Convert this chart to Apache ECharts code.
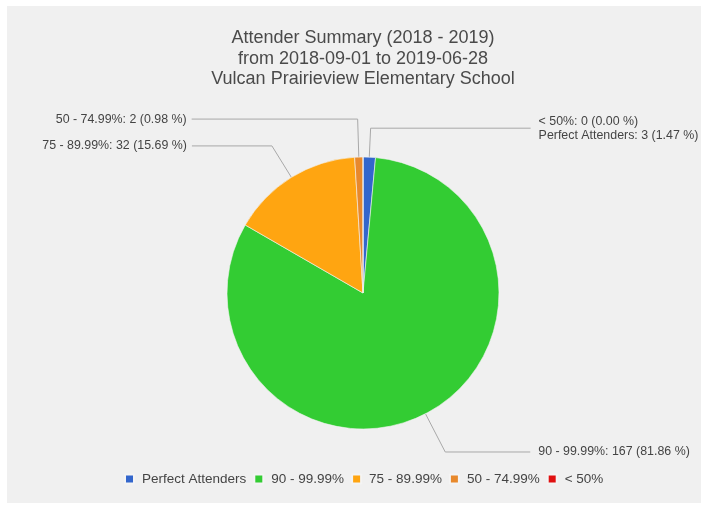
<!DOCTYPE html>
<html>
<head>
<meta charset="utf-8">
<script src="https://cdn.jsdelivr.net/npm/echarts@6/dist/echarts.min.js"></script>
<style>
  html, body { margin: 0; padding: 0; background: #fff; }
  #pie { position: absolute; left: 7px; top: 6px; width: 694px; height: 497px; background: #f0f0f0; }
</style>
</head>
<body>
<div id="pie"></div>
<script>
const titleLines = ["Attender Summary (2018 - 2019)", "from 2018-09-01 to 2019-06-28", "Vulcan Prairieview Elementary School"];
const categories = ["Perfect Attenders", "90 - 99.99%", "75 - 89.99%", "50 - 74.99%", "< 50%"];
const counts = [3, 167, 32, 2, 0];
const colors = ["#3366cc", "#33cc33", "#ffa511", "#e8892c", "#e01010"];

// leader line lengths per slice (first radial segment, horizontal segment)
const lineLen = [29, 43, 37, 38, 0];
const lineLen2 = [160, 85, 80, 166, 0];

const total = counts.reduce((a, b) => a + b, 0);
function pct(v) {
  return (v / total * 100).toFixed(2);
}
function labelText(i) {
  return categories[i] + ": " + counts[i] + " (" + pct(counts[i]) + " %)";
}

let chart = echarts.init(document.getElementById("pie"));
let data = categories.map(function (name, i) {
  let item = {
    name: name,
    value: counts[i],
    itemStyle: { color: colors[i] },
    labelLine: { length: lineLen[i], length2: lineLen2[i] }
  };
  if (i === 0) {
    // the empty "< 50%" slice is stacked above the Perfect Attenders label
    item.label = { padding: [0, 0, 14, 0], distanceToLabelLine: 8 };
  }
  if (i === 1) {
    item.label = { distanceToLabelLine: 8 };
  }
  if (counts[i] === 0) {
    item.label = { show: false };
    item.labelLine = { show: false };
  }
  return item;
});

let option = {
  animation: false,
  title: {
    text: titleLines.join("\n"),
    left: 356,
    top: 22,
    padding: 0,
    textAlign: "center",
    textStyle: {
      fontFamily: "Arial, 'Liberation Sans', sans-serif",
      fontSize: 18,
      fontWeight: "normal",
      lineHeight: 20.5,
      color: "#4a4a4a"
    }
  },
  legend: {
    data: categories,
    left: 112,
    top: 461,
    icon: "rect",
    itemWidth: 9,
    itemHeight: 9,
    itemGap: 7,
    selectedMode: false,
    textStyle: {
      fontFamily: "Arial, 'Liberation Sans', sans-serif",
      fontSize: 13.5,
      color: "#444",
      padding: [0, 0, 0, 3]
    }
  },
  series: [
    {
      type: "pie",
      center: [356, 287],
      radius: 136,
      startAngle: 90,
      clockwise: true,
      avoidLabelOverlap: false,
      silent: true,
      itemStyle: { borderColor: "#f4f4f4", borderWidth: 0.6 },
      label: {
        show: true,
        position: "outside",
        alignTo: "none",
        distanceToLabelLine: 5,
        fontFamily: "Arial, 'Liberation Sans', sans-serif",
        fontSize: 12.4,
        lineHeight: 14,
        color: "#444",
        formatter: function (p) {
          if (p.dataIndex === 0) {
            return labelText(4) + "\n" + labelText(0);
          }
          return labelText(p.dataIndex);
        }
      },
      labelLine: {
        show: true,
        lineStyle: { color: "#a8a8a8", width: 1 }
      },
      emphasis: { disabled: true },
      data: data
    }
  ]
};
chart.setOption(option);
</script>
</body>
</html>
